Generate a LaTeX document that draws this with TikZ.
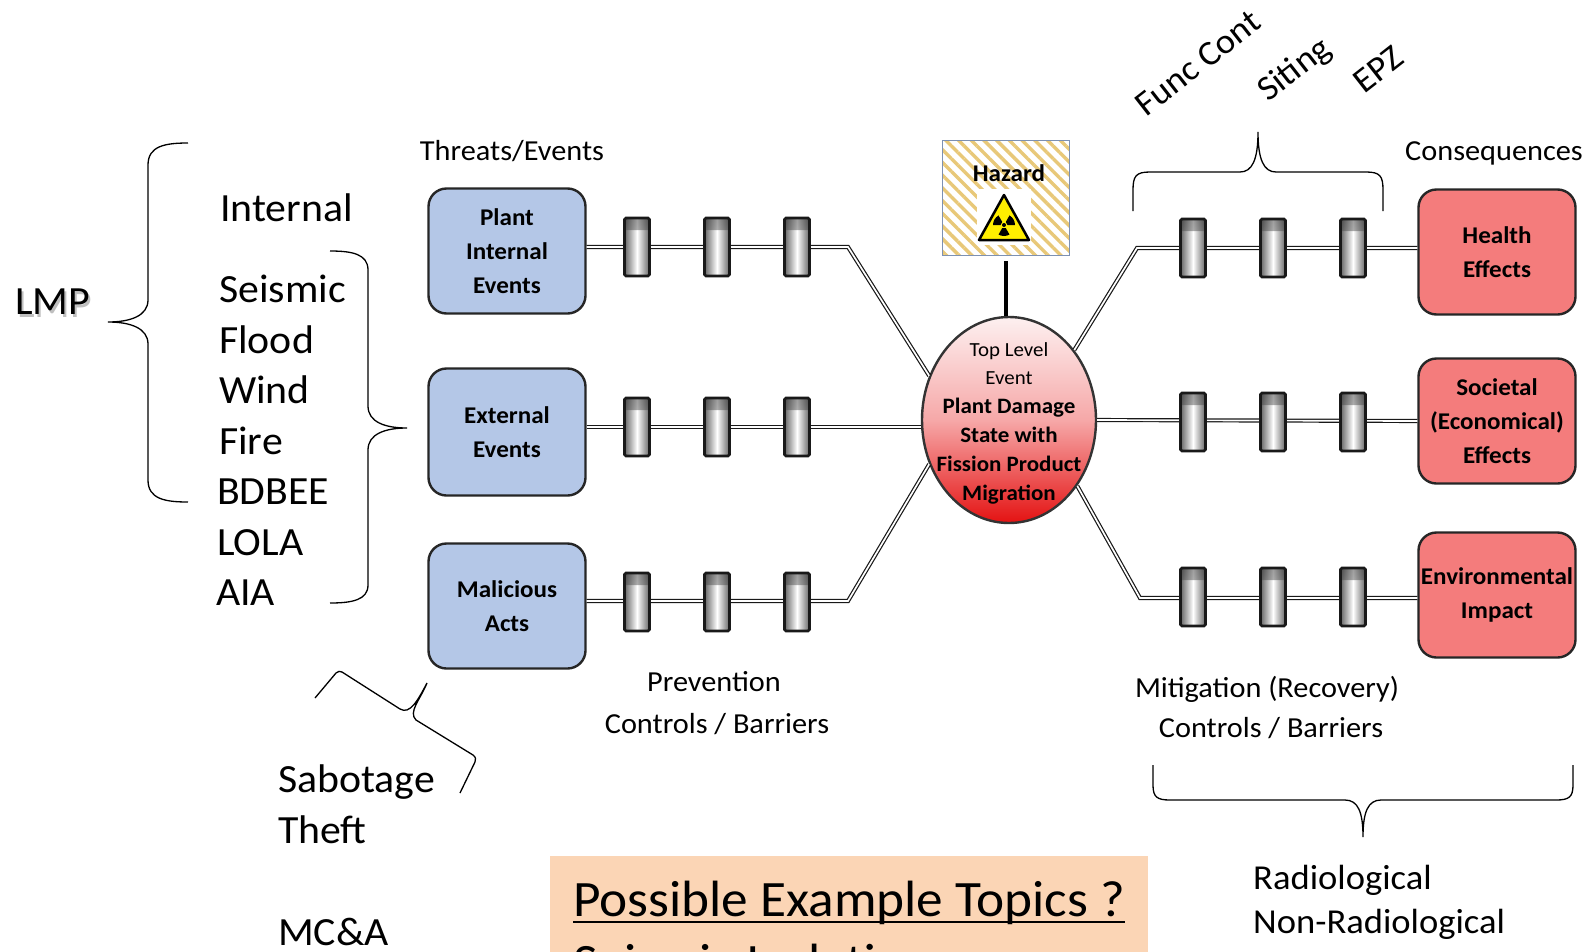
\documentclass[tikz,border=0pt]{standalone}
\usepackage{fontspec}
\setmainfont[FakeStretch=1.045]{Carlito}
\usetikzlibrary{shapes.geometric,patterns.meta}
\definecolor{boxblue}{RGB}{180,199,231}
\definecolor{boxred}{RGB}{244,124,124}
\definecolor{peach}{RGB}{251,213,181}
\definecolor{stripe}{RGB}{232,200,120}
\definecolor{hazborder}{RGB}{125,145,178}
\definecolor{radyellow}{RGB}{255,238,0}
\definecolor{elltop}{RGB}{253,240,240}
\definecolor{ellmid}{RGB}{246,168,168}
\definecolor{ellbot}{RGB}{228,18,18}
\newcommand{\fsz}[2]{\fontsize{#1}{#2}\selectfont}
\tikzset{
  evbox/.style={draw=black!85, line width=2.4pt, rounded corners=18pt, minimum width=157pt, minimum height=125pt, align=center, inner sep=2pt, font=\bfseries\fsz{24}{34}},
  bluebox/.style={evbox, fill=boxblue},
  redbox/.style={evbox, fill=boxred},
  barrier/.style={draw=black!90, line width=2.6pt, rounded corners=1.5pt, minimum width=25pt, minimum height=58pt, inner sep=0pt,
    left color=black!60, right color=black!60, middle color=white,
    path picture={\shade[top color=black!85, bottom color=black!20, fill opacity=0.45] (path picture bounding box.north west) rectangle ([yshift=-12pt]path picture bounding box.north east);}},
  link/.style={draw=black!90, double=white, line width=1.2pt, double distance=1.7pt},
  bracestroke/.style={draw=black, line width=1.3pt},
  listtext/.style={anchor=base west, inner sep=0pt, font=\fsz{40}{48}},
  labtext/.style={inner sep=0pt, font=\fsz{29}{36}},
  toptext/.style={anchor=base west, inner sep=0pt, rotate=38, font=\fsz{35}{40}},
}
\begin{document}
\begin{tikzpicture}[x=1pt,y=-1pt]
\clip (0,0) rectangle (1591,951);
\fill[white] (0,0) rectangle (1591,951);

% ---------------- left lists and braces
\node[listtext, text=black!25] (lmpshadow) at (17,317) {LMP};
\node[listtext] (lmp) at (15,314) {LMP};
\node[listtext] (tint) at (220,221) {Internal};
\node[listtext] (tsei) at (219,302) {Seismic};
\node[listtext] (tflo) at (219,353) {Flood};
\node[listtext] (twin) at (219,403) {Wind};
\node[listtext] (tfir) at (219,454) {Fire};
\node[listtext] (tbdb) at (217,504) {BDBEE};
\node[listtext] (tlol) at (217,555) {LOLA};
\node[listtext] (taia) at (216,605) {AIA};

\draw[bracestroke] (188,143) .. controls (165,143) and (148,146) .. (148,165) -- (148,300)
  .. controls (148,316) and (130,322) .. (108,322) .. controls (130,322) and (148,328) .. (148,344)
  -- (148,480) .. controls (148,499) and (165,502) .. (188,502);
\draw[bracestroke] (330,251) .. controls (352,251) and (368,254) .. (368,270) -- (368,406)
  .. controls (368,422) and (385,428) .. (407,428) .. controls (385,428) and (368,434) .. (368,450)
  -- (368,585) .. controls (368,600) and (352,603) .. (330,603);

\node[listtext] (tsab) at (278,792) {Sabotage};
\node[listtext] (tthe) at (278,843) {Theft};
\node[listtext] (tmca) at (278,945) {MC\&A};
\draw[bracestroke] (315,698) -- (336,673) .. controls (338,671) and (340,671) .. (342,672) -- (400,709)
  .. controls (410,715) and (418,700) .. (427,683) .. controls (420,700) and (408,712) .. (416,720)
  -- (473,755) .. controls (476,757) and (476,760) .. (475,762) -- (460,793);

% ---------------- headings
\node[labtext] (threats) at (512,151) {Threats/Events};
\node[labtext] (conseq) at (1494,153) {Consequences};
\node[labtext] (prev1) at (714,682) {Prevention};
\node[labtext] (prev2) at (717,724) {Controls / Barriers};
\node[labtext] (mit1) at (1267,689) {Mitigation (Recovery)};
\node[labtext] (mit2) at (1271,728) {Controls / Barriers};

% ---------------- event and consequence boxes
\node[bluebox] (pie) at (507,251) {Plant\\Internal\\Events};
\node[bluebox, minimum height=127pt] (ext) at (507,432) {External\\Events};
\node[bluebox] (mal) at (507,606) {Malicious\\Acts};
\node[redbox] (hea) at (1497,252) {Health\\Effects};
\node[redbox] (soc) at (1497,421) {Societal\\(Economical)\\Effects};
\node[redbox] (env) at (1497,595) {Environmental\\Impact};

% ---------------- central event
\node[ellipse, draw=black!80, line width=2.4pt, minimum width=174pt, minimum height=206pt, inner sep=0pt,
  top color=elltop, bottom color=ellbot, middle color=ellmid] (ell) at (1009,420) {};
\node[align=center, inner sep=0pt, font=\fsz{20}{28.8}] (elltxt) at (1009,423)
  {Top Level\\Event\\{\bfseries\fsz{22}{28.8}Plant Damage}\\{\bfseries\fsz{22}{28.8}State with}\\{\bfseries\fsz{22}{28.8}Fission Product}\\{\bfseries\fsz{22}{28.8}Migration}};

% ---------------- hazard
\node[draw=hazborder, line width=1.5pt, minimum width=127pt, minimum height=115pt, inner sep=0pt,
  pattern={Lines[angle=-45,distance=9pt,line width=3.4pt]}, pattern color=stripe] (haz) at (1006,198) {};
\node[font=\bfseries\fsz{24}{28}, inner sep=0pt] (hazt) at (1009,173) {Hazard};
\fill[white] (977,189) rectangle (1031,245);
\draw[black, line width=2.5pt, fill=radyellow, line join=round] (1004,195) -- (1029,240) -- (979,240) -- cycle;
\foreach \a in {-60,60,180}
  \fill[shift={(1004,225)}] (\a:3.5) -- (\a:11) arc[start angle=\a, end angle=\a+60, radius=11] -- (\a+60:3.5) arc[start angle=\a+60, end angle=\a, radius=3.5] -- cycle;
\fill (1004,225) circle (2);
\draw[line width=4pt, shorten <=4pt] (haz.south) -- (haz.south |- ell.north);

% ---------------- connectors
\coordinate (bl1) at (848,247);
\coordinate (bl3) at (848,601);
\coordinate (br1) at (1137,248);
\coordinate (br3) at (1140,598);
\draw[link] (pie.east |- bl1) -- (bl1) -- (ell.151);
\draw[link] (ext.east |- 0,427) -- (ell.west |- 0,427);
\draw[link] (mal.east |- bl3) -- (bl3) -- (ell.209);
\draw[link] (ell.47) -- (br1) -- (hea.west |- br1);
\draw[link] (ell.east) -- (soc.west);
\draw[link] (ell.-44) -- (br3) -- (env.west |- br3);

% ---------------- barriers
\foreach \r/\y in {1/247,2/427,3/602}
  \foreach \c/\x in {1/637,2/717,3/797}
    \node[barrier] (bL\r\c) at (\x,\y) {};
\foreach \r/\y in {1/248,2/422,3/597}
  \foreach \c/\x in {1/1193,2/1273,3/1353}
    \node[barrier] (bR\r\c) at (\x,\y) {};

% ---------------- top right labels and brace
\node[toptext] (func) at (1146,118) {Func Cont};
\node[toptext] (siting) at (1268,103) {Siting};
\node[toptext] (epz) at (1364,95) {EPZ};
\draw[bracestroke] (1133,211) -- (1133,190) .. controls (1133,176) and (1136,172) .. (1150,172) -- (1240,172)
  .. controls (1252,172) and (1258,160) .. (1258,132) .. controls (1258,160) and (1264,172) .. (1276,172)
  -- (1366,172) .. controls (1380,172) and (1383,176) .. (1383,190) -- (1383,211);

% ---------------- bottom right brace and labels
\draw[bracestroke] (1153,765) -- (1153,785) .. controls (1153,797) and (1157,800) .. (1170,800) -- (1345,800)
  .. controls (1358,800) and (1363,812) .. (1363,837) .. controls (1363,812) and (1368,800) .. (1381,800)
  -- (1556,800) .. controls (1569,800) and (1573,797) .. (1573,785) -- (1573,765);
\node[anchor=base west, inner sep=0pt, font=\fsz{35}{40}] (radio) at (1253,889) {Radiological};
\node[anchor=base west, inner sep=0pt, font=\fsz{35}{40}] (nonradio) at (1253,933) {Non-Radiological};

% ---------------- topics box
\fill[peach] (550,856) rectangle (1148,960);
\node[anchor=base west, inner sep=0pt, font=\fsz{51}{60}] (topics) at (573,916) {Possible Example Topics ?};
\draw[line width=2.5pt] ([yshift=-6pt]topics.base west) -- ([yshift=-6pt]topics.base east);
\node[anchor=base west, inner sep=0pt, font=\fsz{51}{60}] (seismiciso) at (573,979) {Seismic Isolation};
\end{tikzpicture}
\end{document}
